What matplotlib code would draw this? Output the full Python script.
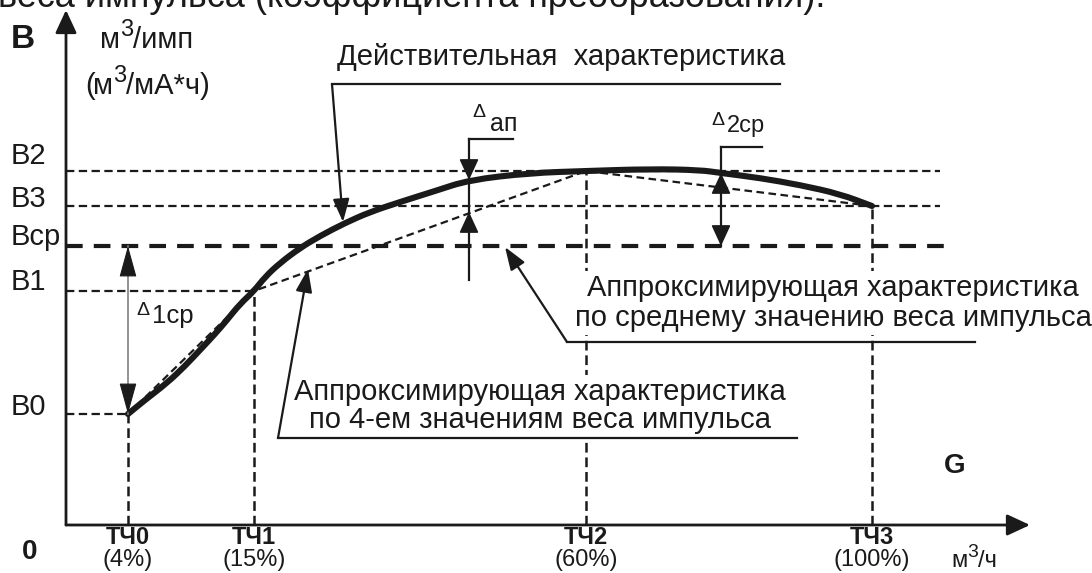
import matplotlib
matplotlib.use("Agg")
import matplotlib.pyplot as plt
from matplotlib.path import Path
from matplotlib.patches import PathPatch

plt.rcParams["font.family"] = ["Liberation Sans", "DejaVu Sans"]
plt.rcParams["lines.scale_dashes"] = False

# ---- schematic values (G along x, B along y) ----
level_names = ["В0", "В1", "Вср", "В3", "В2"]
level_vals = [111, 234, 279, 319, 354]

point_names = ["ТЧ0", "ТЧ1", "ТЧ2", "ТЧ3"]
point_pct = ["(4%)", "(15%)", "(60%)", "(100%)"]
point_g = [62, 188, 520, 806]
point_b = [111, 234, 354, 319]          # pulse weight at each check point

# actual characteristic B(G)
curve_g = [62, 79, 101, 119, 134, 149, 161, 174, 188, 199, 214, 234, 254,
           279, 304, 334, 369, 403, 464, 520, 584, 634, 655, 694, 734, 774, 806]
curve_b = [111, 125, 142, 159, 175, 191, 205, 221, 234, 248, 262, 277, 289,
           302, 313, 323, 334, 345, 352, 354, 356, 355, 352, 347, 340, 331, 319]

b_mean = 279                             # Вср
delta_ap_g, delta_ap_top, delta_ap_bot = 403, 345, 313
delta_2_g, delta_2_top = 655, 352

K = "#1a1a1a"
FS = 21

fig = plt.figure(figsize=(10.92, 5.73), dpi=100)
ax = fig.add_axes([0, 0, 1, 1])
ax.set_xlim(-66, 1026)
ax.set_ylim(-48, 525)
ax.axis("off")


def head(xy, xytext, hl=13, hw=6, lw=1.2, color=K, z=8):
    ax.annotate("", xy=xy, xytext=xytext,
                arrowprops=dict(arrowstyle=f"-|>,head_length={hl},head_width={hw}",
                                mutation_scale=1, lw=lw, color=color,
                                shrinkA=0, shrinkB=0),
                zorder=z)


def unit_text(x, y, base, sup, rest, fs, sfs, rise, **kw):
    """Unit caption with a raised exponent, e.g. м³/имп."""
    t1 = ax.text(x, y, base, fontsize=fs, color=K, va="bottom", ha="left", **kw)
    t2 = ax.annotate(sup, xy=(1, 0), xycoords=t1, xytext=(0, rise),
                     textcoords="offset points", fontsize=sfs, color=K,
                     va="bottom", ha="left", **kw)
    ax.annotate(rest, xy=(1, 0), xycoords=(t2, t1), fontsize=fs, color=K,
                va="bottom", ha="left", **kw)


# coordinate axes
head((0, 515), (0, 0), hl=14, hw=6.5, lw=2.0)
head((964, 0), (0, 0), hl=14, hw=6.5, lw=2.0)

# level lines
thin = dict(color=K, lw=1.6, dashes=(6, 3.2), zorder=2)
ax.plot([0, 874], [level_vals[4]] * 2, **thin)
ax.plot([0, 874], [level_vals[3]] * 2, **thin)
ax.plot([0, point_g[1]], [level_vals[1]] * 2, **thin)
ax.plot([0, point_g[0]], [level_vals[0]] * 2, **thin)
ax.plot([0, 879], [b_mean] * 2, color=K, lw=3.0, dashes=(12, 8), zorder=2)

# verticals at the check points
for g, b in zip(point_g, point_b):
    ax.plot([g, g], [0, b], color=K, lw=1.8, dashes=(7, 3.5), zorder=2)

# actual characteristic (smooth quadratic path through the read points)
pts = list(zip(curve_g, curve_b))
verts = [pts[0], ((pts[0][0] + pts[1][0]) / 2, (pts[0][1] + pts[1][1]) / 2)]
codes = [Path.MOVETO, Path.LINETO]
for i in range(1, len(pts) - 1):
    p, q = pts[i], pts[i + 1]
    verts += [p, ((p[0] + q[0]) / 2, (p[1] + q[1]) / 2)]
    codes += [Path.CURVE3, Path.CURVE3]
verts.append(pts[-1])
codes.append(Path.LINETO)
ax.add_patch(PathPatch(Path(verts, codes), fill=False, lw=4.4, ec=K,
                       capstyle="round", joinstyle="round", zorder=3))

# four-point approximation
ax.plot(point_g, point_b, color=K, lw=1.6, dashes=(5.5, 3.2), zorder=4)

# Δ1ср
ax.plot([point_g[0]] * 2, [level_vals[0], b_mean], color="#808080", lw=1.2, zorder=5)
head((point_g[0], b_mean), (point_g[0], b_mean - 28), hl=20, hw=5.5, lw=0.8)
head((point_g[0], level_vals[0]), (point_g[0], level_vals[0] + 28), hl=20, hw=5.5, lw=0.8)

# Δап
ax.plot([delta_ap_g] * 2, [245, 386], color=K, lw=1.6, zorder=5)
ax.plot([delta_ap_g, 447], [386, 386], color=K, lw=1.6, zorder=5)
head((delta_ap_g, delta_ap_top), (delta_ap_g, delta_ap_top + 20), hl=13, hw=6)
head((delta_ap_g, delta_ap_bot), (delta_ap_g, delta_ap_bot - 20), hl=13, hw=6)

# Δ2ср
ax.plot([delta_2_g] * 2, [b_mean, 378], color=K, lw=1.6, zorder=5)
ax.plot([delta_2_g, 696], [378, 378], color=K, lw=1.6, zorder=5)
head((delta_2_g, delta_2_top), (delta_2_g, delta_2_top - 20), hl=13, hw=6)
head((delta_2_g, b_mean), (delta_2_g, b_mean + 20), hl=13, hw=6)

# Δ labels
ax.text(70, 210, "Δ", fontsize=14, color=K, va="baseline", zorder=9)
ax.text(86, 202, "1ср", fontsize=18.5, color=K, va="baseline", zorder=9)
ax.text(406, 408, "Δ", fontsize=14, color=K, va="baseline", zorder=9)
ax.text(424, 394, "ап", fontsize=18, color=K, va="baseline", zorder=9)
ax.text(645, 400, "Δ", fontsize=14, color=K, va="baseline", zorder=9)
ax.text(661, 393, "2ср", fontsize=17, color=K, va="baseline", zorder=9)

# level labels
label_dy = [7, 9, 9, 7, 15]
for name, v, dy in zip(level_names, level_vals, label_dy):
    ax.text(-55, v + dy, name, fontsize=FS, color=K, va="center", ha="left")

# axis captions
ax.text(-68, 518, "веса импульса (коэффициента преобразования).",
        fontsize=26, color=K, va="baseline", ha="left")
ax.text(-43, 485, "В", fontsize=24, fontweight="bold", color=K, va="center", ha="center")
unit_text(34, 471, "м", "3", "/имп", FS, 17, 9)
ax.text(19, 425, "(", fontsize=FS, color=K, va="bottom", ha="left")
unit_text(27, 425, "м", "3", "/мА*ч)", FS, 17, 9)
ax.text(889, 59, "G", fontsize=20, fontweight="bold", color=K, va="center", ha="center")
ax.text(-36, -27, "0", fontsize=20, fontweight="bold", color=K, va="center", ha="center")

narrow = ["Liberation Sans Narrow", "Liberation Sans"]
for name, pct, g in zip(point_names, point_pct, point_g):
    ax.text(g, -13, name, fontsize=17, fontweight="bold", family=narrow,
            color=K, ha="center", va="center")
    ax.text(g, -35, pct, fontsize=17, family=narrow, color=K, ha="center", va="center")
unit_text(885, -47, "м", "3", "/ч", 17, 14, 8, family=narrow)

# callouts
ax.text(271, 460, "Действительная  характеристика", fontsize=FS, color=K,
        va="baseline", ha="left")
ax.plot([266, 714], [441, 441], color=K, lw=1.6, zorder=6)
head((277, 303), (266, 441), hl=14, hw=5, lw=1.6)

ax.text(767, 222, "Аппроксимирующая характеристика\nпо среднему значению веса импульса",
        fontsize=FS, color=K, ha="center", va="center", multialignment="center",
        linespacing=1.1, zorder=5,
        bbox=dict(facecolor="white", edgecolor="none", pad=2))
ax.plot([501, 909], [183, 183], color=K, lw=1.6, zorder=6)
head((439, 278), (501, 183), hl=14, hw=5, lw=1.6)

ax.text(474, 119, "Аппроксимирующая характеристика\nпо 4-ем значениям веса импульса",
        fontsize=FS, color=K, ha="center", va="center", multialignment="center",
        linespacing=1.0, zorder=5,
        bbox=dict(facecolor="white", edgecolor="none", pad=2))
ax.plot([212, 731], [87, 87], color=K, lw=1.6, zorder=6)
head((242, 256), (212, 87), hl=14, hw=5, lw=1.6)

fig.savefig("out.png", dpi=100, facecolor="white")
